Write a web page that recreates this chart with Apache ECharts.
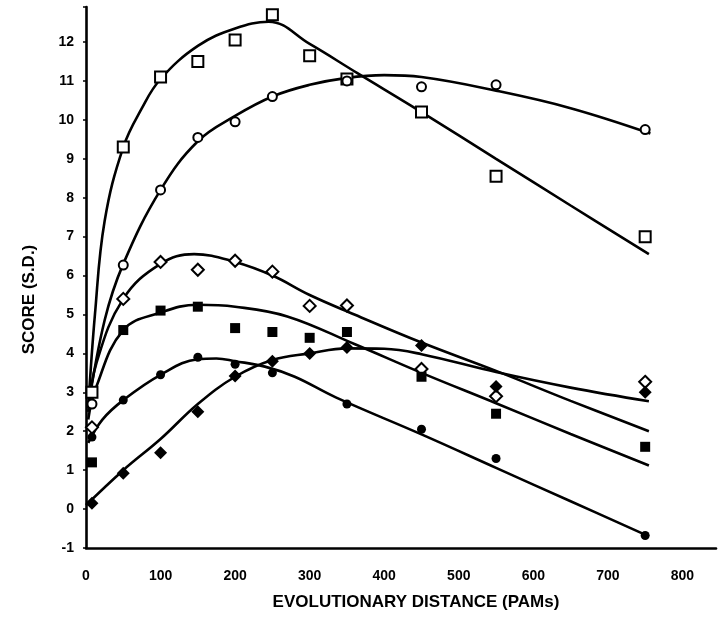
<!DOCTYPE html>
<html>
<head>
<meta charset="utf-8">
<script src="https://cdn.jsdelivr.net/npm/echarts@6/dist/echarts.min.js"></script>
<style>
html,body{margin:0;padding:0;background:#fff;}
#chart{width:719px;height:623px;}
</style>
</head>
<body>
<div id="chart"></div>
<script>
// ---- data ----
const pamX = [8, 50, 100, 150, 200, 250, 300, 350, 450, 550, 750];

const openSquares   = [3.0, 9.3, 11.1, 11.5, 12.05, 12.7, 11.65, 11.05, 10.2, 8.55, 7.0];
const openCircles   = [2.7, 6.27, 8.2, 9.55, 9.95, 10.6, null, 11.0, 10.85, 10.9, 9.75];
const openDiamonds  = [2.1, 5.4, 6.35, 6.15, 6.38, 6.1, 5.22, 5.23, 3.6, 2.9, 3.27];
const filledSquares = [1.2, 4.6, 5.1, 5.2, 4.65, 4.55, 4.4, 4.55, 3.4, 2.45, 1.6];
const filledCircles = [1.85, 2.8, 3.45, 3.9, 3.72, 3.5, null, 2.7, 2.05, 1.3, -0.68];
const filledDiamonds= [0.15, 0.92, 1.45, 2.5, 3.42, 3.8, 4.0, 4.15, 4.2, 3.15, 3.0];

// fitted curves (sampled along the drawn lines)
const curveSqX = [3, 12, 25, 50, 75, 100, 150, 200, 245, 300, 364, 450, 550, 650, 755];
const curveSqY = [2.6, 5.0, 7.4, 9.3, 10.3, 11.05, 11.9, 12.35, 12.52, 11.95, 11.2, 10.2, 9.0, 7.8, 6.55];

const curveCiX = [3, 25, 50, 100, 150, 200, 250, 300, 350, 400, 450, 550, 650, 757];
const curveCiY = [2.6, 4.85, 6.3, 8.2, 9.45, 10.1, 10.6, 10.9, 11.08, 11.15, 11.1, 10.75, 10.3, 9.65];

const curveODX = [3, 14, 50, 100, 145, 200, 250, 300, 360, 450, 550, 650, 755];
const curveODY = [2.5, 3.75, 5.4, 6.3, 6.55, 6.35, 6.0, 5.5, 5.0, 4.28, 3.55, 2.78, 2.0];

const curveFSX = [3, 13, 50, 100, 150, 200, 270, 360, 450, 550, 650, 755];
const curveFSY = [2.3, 3.1, 4.6, 5.05, 5.25, 5.2, 4.95, 4.24, 3.5, 2.72, 1.93, 1.12];

const curveFCX = [3, 22, 50, 100, 150, 175, 200, 240, 280, 335, 450, 550, 650, 755];
const curveFCY = [1.7, 2.3, 2.8, 3.45, 3.85, 3.87, 3.8, 3.66, 3.4, 2.87, 1.92, 1.06, 0.2, -0.7];

const curveFDX = [0, 50, 100, 150, 200, 250, 300, 350, 400, 450, 550, 650, 755];
const curveFDY = [0.1, 1.0, 1.8, 2.7, 3.4, 3.83, 4.0, 4.13, 4.12, 3.98, 3.52, 3.12, 2.77];

const xTicks = [0, 100, 200, 300, 400, 500, 600, 700, 800];
const yTicks = [-1, 0, 1, 2, 3, 4, 5, 6, 7, 8, 9, 10, 11, 12];

// ---- build ----
function pairs(xs, ys) {
  const out = [];
  for (let i = 0; i < xs.length; i++) if (ys[i] !== null) out.push([xs[i], ys[i]]);
  return out;
}
const font = 'Liberation Sans, Arial, sans-serif';

function curve(xs, ys) {
  return {
    type: 'line', data: pairs(xs, ys), smooth: 0.4, showSymbol: false, symbol: 'none',
    lineStyle: { color: '#000', width: 2.6 }, z: 2, silent: true
  };
}
function marks(ys, symbol, size, filled) {
  return {
    type: 'scatter', data: pairs(pamX, ys), symbol: symbol, symbolSize: size, z: 3,
    itemStyle: filled ? { color: '#000', borderColor: '#000', borderWidth: 0, opacity: 1 }
                      : { color: '#fff', borderColor: '#000', borderWidth: 2, opacity: 1 }
  };
}

const chart = echarts.init(document.getElementById('chart'), null, { renderer: 'canvas' });
chart.setOption({
  animation: false,
  backgroundColor: '#fff',
  grid: { left: 86, right: 0, top: 7, bottom: 75, containLabel: false },
  xAxis: {
    type: 'value', min: 0, max: 845, interval: 100,
    name: 'EVOLUTIONARY DISTANCE (PAMs)', nameLocation: 'middle', nameGap: 46,
    nameTextStyle: { fontFamily: font, fontWeight: 'bold', fontSize: 17, color: '#000', padding: [0, 0, 0, 30] },
    axisLine: { onZero: false, lineStyle: { color: '#000', width: 2.6 } },
    axisTick: { show: false },
    splitLine: { show: false },
    axisLabel: {
      margin: 21, color: '#000', fontFamily: font, fontWeight: 'bold', fontSize: 14,
      formatter: v => xTicks.indexOf(v) >= 0 ? String(v) : ''
    }
  },
  yAxis: {
    type: 'value', min: -1, max: 12.9, interval: 1,
    name: 'SCORE (S.D.)', nameLocation: 'middle', nameGap: 48, nameRotate: 90,
    nameTextStyle: { fontFamily: font, fontWeight: 'bold', fontSize: 17, color: '#000', padding: [0, 44, 0, 0] },
    axisLine: { onZero: false, lineStyle: { color: '#000', width: 2.6 } },
    axisTick: { show: true, length: 3, lineStyle: { color: '#000', width: 1.5 } },
    splitLine: { show: false },
    axisLabel: {
      margin: 12, color: '#000', fontFamily: font, fontWeight: 'bold', fontSize: 14,
      formatter: v => yTicks.indexOf(v) >= 0 ? String(v) : ''
    }
  },
  series: [
    curve(curveSqX, curveSqY),
    curve(curveCiX, curveCiY),
    curve(curveODX, curveODY),
    curve(curveFSX, curveFSY),
    curve(curveFCX, curveFCY),
    curve(curveFDX, curveFDY),
    marks(openSquares, 'rect', 11, false),
    marks(openCircles, 'circle', 9, false),
    marks(openDiamonds, 'diamond', 12, false),
    marks(filledSquares, 'rect', 10, true),
    marks(filledCircles, 'circle', 9, true),
    marks(filledDiamonds, 'diamond', 13, true)
  ]
});
</script>
</body>
</html>
